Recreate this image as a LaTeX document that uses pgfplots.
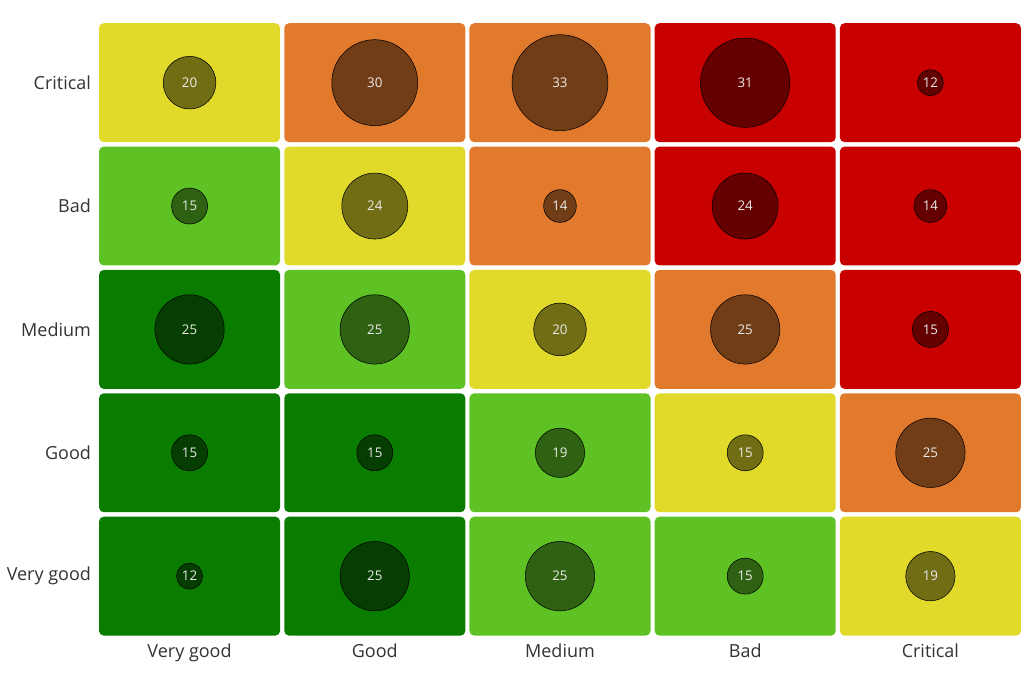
\documentclass[border=0pt]{standalone}
\usepackage{fontspec}
\setmainfont{Open Sans}
\usepackage{pgfplots}
\usepackage{pgfplotstable}
\pgfplotsset{compat=1.18}

\definecolor{cdg}{HTML}{0A7D00}
\definecolor{clg}{HTML}{5EC224}
\definecolor{cye}{HTML}{E2DA2B}
\definecolor{cor}{HTML}{E27A2E}
\definecolor{cre}{HTML}{C90000}
\definecolor{lbl}{HTML}{333333}

% rounded cell, 181x119 px at 0.75pt/px
\pgfdeclareplotmark{cell}{%
  \path[fill, draw=none, rounded corners=3.5pt] (-67.9pt,-44.6pt) rectangle (67.9pt,44.6pt);}

\pgfplotsset{
  bubble/.style={scatter, only marks, mark=*,
    visualization depends on={\thisrow{v} \as \val},
    scatter/use mapped color={draw=none, fill=#1!50!black},
    scatter/@pre marker code/.append code={%
      \pgfmathsetlength{\pgfplotmarksize}{9.75+(\val-12)*1.25}}},
}

% x: likelihood, y: impact (0 = Very good ... 4 = Critical)
\pgfplotstableread{
x y v c
0 4 20 ye
1 4 30 or
2 4 33 or
3 4 31 re
4 4 12 re
0 3 15 lg
1 3 24 ye
2 3 14 or
3 3 24 re
4 3 14 re
0 2 25 dg
1 2 25 lg
2 2 20 ye
3 2 25 or
4 2 15 re
0 1 15 dg
1 1 15 dg
2 1 19 lg
3 1 15 ye
4 1 25 or
0 0 12 dg
1 0 25 dg
2 0 25 lg
3 0 15 lg
4 0 19 ye
}\risk

\pgfplotstableread{
x y v
0 2 25
0 1 15
1 1 15
0 0 12
1 0 25
}\dg
\pgfplotstableread{
x y v
0 3 15
1 2 25
2 1 19
2 0 25
3 0 15
}\lg
\pgfplotstableread{
x y v
0 4 20
1 3 24
2 2 20
3 1 15
4 0 19
}\ye
\pgfplotstableread{
x y v
1 4 30
2 4 33
2 3 14
3 2 25
4 1 25
}\orr
\pgfplotstableread{
x y v
3 4 31
4 4 12
3 3 24
4 3 14
4 2 15
}\re

\begin{document}
\begin{tikzpicture}
\begin{axis}[
    name=ax,
    x=138.94pt, y=92.55pt,
    xmin=-0.5, xmax=4.5, ymin=-0.5, ymax=4.5,
    clip=false,
    axis line style={draw=none},
    major tick length=0pt,
    xtick={0,1,2,3,4}, ytick={0,1,2,3,4},
    xticklabels={Very good,Good,Medium,Bad,Critical},
    yticklabels={Very good,Good,Medium,Bad,Critical},
    tick label style={font=\fontsize{13.5}{15}\selectfont, text=lbl},
    xticklabel style={yshift=-1pt},
    yticklabel style={xshift=-1pt},
]
% cells
\addplot[scatter, only marks, scatter src=explicit symbolic,
    scatter/classes={
        dg={mark=cell, fill=cdg, draw=none}, lg={mark=cell, fill=clg, draw=none},
        ye={mark=cell, fill=cye, draw=none}, or={mark=cell, fill=cor, draw=none},
        re={mark=cell, fill=cre, draw=none}}]
    table[x=x, y=y, meta=c] {\risk};
% bubbles, radius grows with the count
\addplot[bubble=cdg] table[x=x, y=y] {\dg};
\addplot[bubble=clg] table[x=x, y=y] {\lg};
\addplot[bubble=cye] table[x=x, y=y] {\ye};
\addplot[bubble=cor] table[x=x, y=y] {\orr};
\addplot[bubble=cre] table[x=x, y=y] {\re};
% counts
\addplot[only marks, mark=none,
    point meta=explicit symbolic,
    nodes near coords,
    every node near coord/.append style={anchor=center, text=white!92!black,
        font=\fontsize{10}{12}\selectfont}]
    table[x=x, y=y, meta=v] {\risk};
\end{axis}
\pgfresetboundingbox
\path[use as bounding box] ([shift={(-72.75pt,-39pt)}]ax.south west)
    rectangle ([shift={(0.75pt,15.75pt)}]ax.north east);
\end{tikzpicture}
\end{document}
